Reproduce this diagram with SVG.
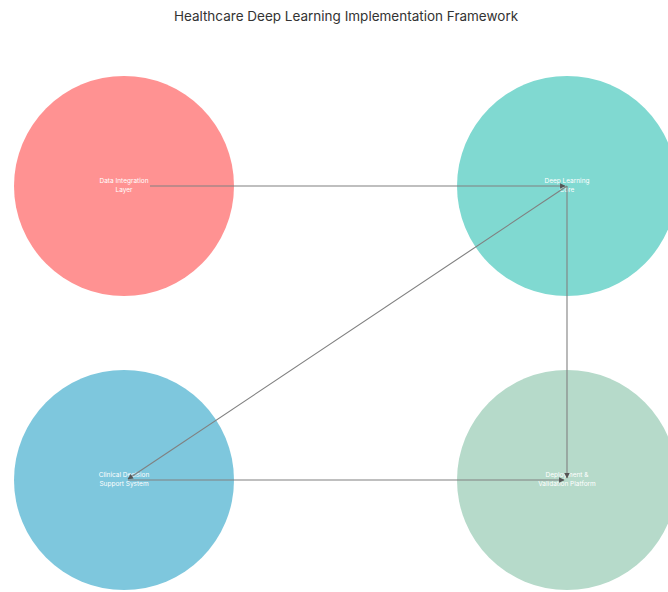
<svg xmlns="http://www.w3.org/2000/svg" width="668" height="592" viewBox="0 0 668 592">
<style>
.t{font-family:"Inter","Liberation Sans",sans-serif;font-size:13.5px;fill:#333;text-anchor:middle}
.l{font-family:"Inter","Liberation Sans",sans-serif;font-size:6.5px;fill:#fff;text-anchor:middle}
.c{fill:none;stroke:#808080;stroke-width:1.1}
</style>
<defs>
<marker id="a" viewBox="0 0 10 10" refX="9" refY="5" markerWidth="5" markerHeight="5" orient="auto"><path d="M0,0L10,5L0,10z" fill="#555"/></marker>
</defs>
<rect width="668" height="592" fill="#fff"/>
<text class="t" x="346" y="21">Healthcare Deep Learning Implementation Framework</text>
<g id="data"><circle cx="124" cy="186" r="110" fill="#FF9292"/><text class="l" x="124" y="183">Data Integration</text><text class="l" x="124" y="192">Layer</text></g>
<g id="dl"><circle cx="567" cy="186" r="110" fill="#80D9D1"/><text class="l" x="567" y="183">Deep Learning</text><text class="l" x="567" y="192">Core</text></g>
<g id="cds"><circle cx="124" cy="480" r="110" fill="#7EC7DD"/><text class="l" x="124" y="477">Clinical Decision</text><text class="l" x="124" y="486">Support System</text></g>
<g id="deploy"><circle cx="567" cy="480" r="110" fill="#B6DACA"/><text class="l" x="567" y="477">Deployment &amp;</text><text class="l" x="567" y="486">Validation Platform</text></g>
<g id="connectors">
<line class="c" x1="150" y1="186" x2="565" y2="186" marker-end="url(#a)"/>
<line class="c" x1="567" y1="186" x2="128" y2="479" marker-end="url(#a)"/>
<line class="c" x1="567" y1="186" x2="567" y2="478" marker-end="url(#a)"/>
<line class="c" x1="128" y1="480" x2="564" y2="480" marker-end="url(#a)"/>
</g>
</svg>
